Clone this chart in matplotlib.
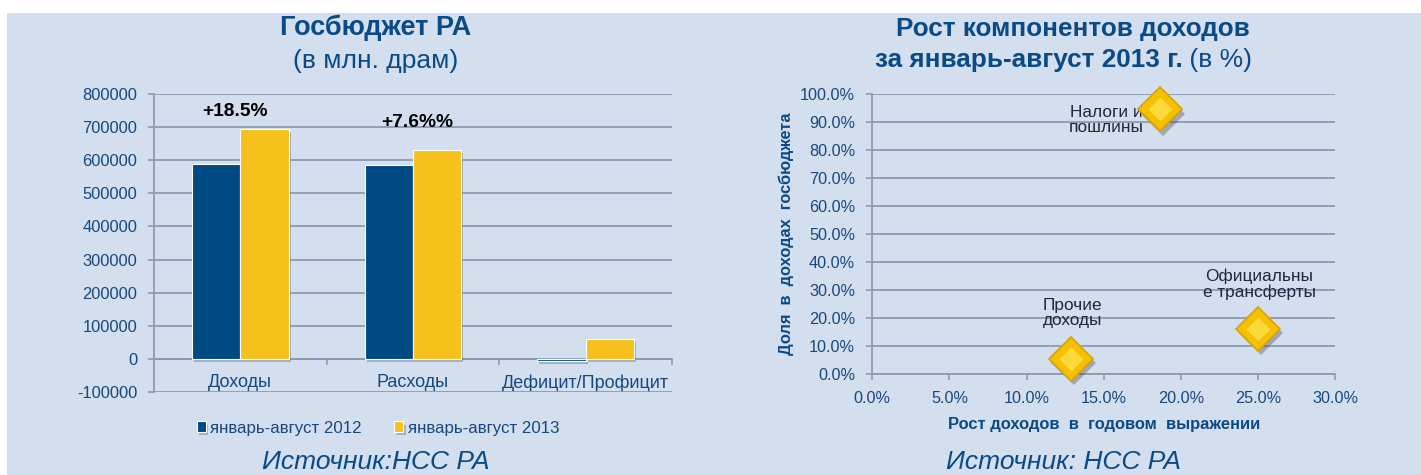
import matplotlib
matplotlib.use("Agg")
import matplotlib.pyplot as plt
import matplotlib.patheffects as pe
from matplotlib.ticker import FuncFormatter, MultipleLocator
import numpy as np

plt.rcParams['font.family'] = ['Liberation Sans', 'DejaVu Sans']

# ---------------- data ----------------
categories = ["Доходы", "Расходы", "Дефицит/Профицит"]
series_names = ["январь-август 2012", "январь-август 2013"]
values_2012 = [588000, 587000, -6000]
values_2013 = [695000, 632000, 61000]
growth_labels = ["+18.5%", "+7.6%%"]
y_ticks_left = [-100000, 0, 100000, 200000, 300000, 400000, 500000, 600000, 700000, 800000]

component_names = ["Налоги и\nпошлины", "Прочие\nдоходы", "Официальны\nе трансферты"]
growth_pct = [18.66, 12.87, 25.0]
share_pct = [94.6, 5.3, 16.1]

# ---------------- style ----------------
BG = '#D3DEEE'
GRID = '#8D9BB0'
BLUE = '#004A84'
YELLOW = '#F6C11D'
TXT = '#17497F'
TITLE = '#0A4A86'

W, H = 1421, 475
fig = plt.figure(figsize=(W / 100, H / 100), dpi=100)
fig.patch.set_facecolor('white')
# background panel
fig.patches.append(plt.Rectangle((7 / W, 0), 1 - 7 / W, 1 - 13 / H, transform=fig.transFigure,
                                 facecolor=BG, edgecolor='none', zorder=-10))

def fx(px):
    return px / W

def fy(py):
    return 1 - py / H

# ---------------- left chart ----------------
ax1 = fig.add_axes([fx(154), fy(392), fx(672) - fx(154), fy(94) - fy(392)])
ax1.set_facecolor('none')
x = np.arange(len(categories))
bw = 0.28
shadow = [pe.SimplePatchShadow(offset=(1.5, -2.5), shadow_rgbFace='#505860', alpha=0.35), pe.Normal()]
b1 = ax1.bar(x - bw / 2, values_2012, bw, color=BLUE, edgecolor='white', linewidth=0.8,
             label=series_names[0], zorder=3)
b2 = ax1.bar(x + bw / 2, values_2013, bw, color=YELLOW, edgecolor='white', linewidth=0.8,
             label=series_names[1], zorder=3)
for b in list(b1) + list(b2):
    b.set_path_effects(shadow)
ax1.set_xlim(-0.5, 2.5)
ax1.set_ylim(-100000, 800000)
ax1.set_yticks(y_ticks_left)
ax1.yaxis.set_major_formatter(FuncFormatter(lambda v, p: f"{int(v)}"))
ax1.grid(axis='y', color=GRID, linewidth=1.3, zorder=1)
ax1.set_axisbelow(True)
for s in ['top', 'right']:
    ax1.spines[s].set_visible(False)
ax1.spines['left'].set_color(GRID)
ax1.spines['left'].set_linewidth(1.3)
ax1.spines['bottom'].set_position(('data', 0))
ax1.spines['bottom'].set_color(GRID)
ax1.spines['bottom'].set_linewidth(1.3)
ax1.set_xticks(x)
ax1.set_xticklabels(categories)
ax1.set_xticks([0.5, 1.5, 2.5], minor=True)
ax1.tick_params(axis='x', which='major', length=0, pad=11, labelsize=13, labelcolor=TXT)
ax1.tick_params(axis='x', which='minor', length=4, color=GRID, width=1.2)
ax1.tick_params(axis='y', length=4, color=GRID, width=1.2, pad=8.2, labelsize=11.9, labelcolor=TXT)

label_offsets = [(-3.8, 12.2), (2.7, 19.7)]
for i, lab in enumerate(growth_labels):
    ax1.annotate(lab, xy=(x[i], values_2013[i]), xytext=label_offsets[i],
                 textcoords='offset points', ha='center', va='center',
                 fontsize=13.8, fontweight='bold', color='black')

leg = fig.legend(handles=[b1, b2], labels=series_names, loc='center', bbox_to_anchor=(fx(378), fy(428)),
                 ncol=2, frameon=False, fontsize=12.2, handlelength=0.55, handleheight=0.55,
                 handletextpad=0.25, columnspacing=1.9, labelcolor=TXT)

fig.text(fx(376), fy(28), "Госбюджет РА", ha='center', va='center', fontsize=19.5,
         fontweight='bold', color=TITLE)
fig.text(fx(376), fy(61), "(в млн. драм)", ha='center', va='center', fontsize=19, color=TITLE)
fig.text(fx(376), fy(462), "Источник:НСС РА", ha='center', va='center', fontsize=19,
         style='italic', color=TITLE)

# ---------------- right chart ----------------
ax2 = fig.add_axes([fx(872.3), fy(373.7), fx(1335) - fx(872.3), fy(94.3) - fy(373.7)])
ax2.set_facecolor('none')
ax2.set_xlim(0, 30)
ax2.set_ylim(0, 100)
ax2.xaxis.set_major_locator(MultipleLocator(5))
ax2.yaxis.set_major_locator(MultipleLocator(10))
ax2.xaxis.set_major_formatter(FuncFormatter(lambda v, p: f"{v:.1f}%"))
ax2.yaxis.set_major_formatter(FuncFormatter(lambda v, p: f"{v:.1f}%"))
ax2.grid(axis='y', color=GRID, linewidth=1.3, zorder=1)
ax2.set_axisbelow(True)
for s in ['top', 'right']:
    ax2.spines[s].set_visible(False)
for s in ['left', 'bottom']:
    ax2.spines[s].set_color(GRID)
    ax2.spines[s].set_linewidth(1.3)
ax2.tick_params(axis='both', length=4.5, color=GRID, width=1.2, labelsize=11.7, labelcolor=TXT)
ax2.tick_params(axis='y', pad=8)
ax2.tick_params(axis='x', pad=8)
ax2.set_ylabel("Доля  в  доходах  госбюджета", fontsize=11.8, fontweight='bold', color=TITLE, labelpad=4)
ax2.set_xlabel("Рост доходов  в  годовом  выражении", fontsize=11.9, fontweight='bold', color=TITLE, labelpad=8)

dshadow = [pe.SimplePatchShadow(offset=(2, -3), shadow_rgbFace='#404040', alpha=0.35), pe.Normal()]
ax2.plot(growth_pct, share_pct, linestyle='none', marker='D', markersize=22.5,
         markerfacecolor='#F5C000', markeredgecolor='#D9A300', markeredgewidth=1.2,
         zorder=4, path_effects=dshadow, clip_on=False)
ax2.plot(growth_pct, share_pct, linestyle='none', marker='D', markersize=12,
         markerfacecolor='#FCE04A', markeredgecolor='none', zorder=5, clip_on=False, alpha=0.8)

offsets = [(-39, -8), (1.5, 33), (1.2, 32)]
for name, gx, sy, off in zip(component_names, growth_pct, share_pct, offsets):
    ax2.annotate(name, xy=(gx, sy), xytext=off, textcoords='offset points', ha='center',
                 va='center', fontsize=12.4, color='#1A2A40', linespacing=1.0, zorder=3)

# title with mixed weight on second line
fig.text(fx(1072.7), fy(29), "Рост компонентов доходов", ha='center', va='center', fontsize=18.8,
         fontweight='bold', color=TITLE)
fig.canvas.draw()
r = fig.canvas.get_renderer()
tb = fig.text(0, fy(60), "за январь-август 2013 г.", ha='left', va='center', fontsize=18.8,
              fontweight='bold', color=TITLE)
tn = fig.text(0, fy(60), " (в %)", ha='left', va='center', fontsize=19, color=TITLE)
wb = tb.get_window_extent(r).width
wn = tn.get_window_extent(r).width
start = 1063.5 - (wb + wn) / 2
tb.set_x(fx(start))
tn.set_x(fx(start + wb))

fig.text(fx(1064), fy(462), "Источник: НСС РА", ha='center', va='center', fontsize=19,
         style='italic', color=TITLE)

fig.savefig("out.png", dpi=100, facecolor='white')
